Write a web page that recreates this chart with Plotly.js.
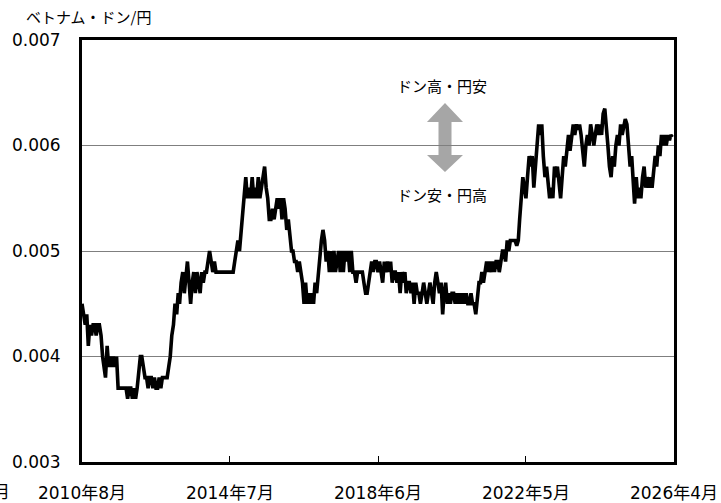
<!DOCTYPE html>
<html><head><meta charset="utf-8">
<script src="https://cdn.plot.ly/plotly-3.0.1.min.js"></script>
<style>html,body{margin:0;padding:0;background:#fff}</style>
</head><body>
<div id="chart" style="width:721px;height:503px"></div>
<script>
// Semi-monthly observations (1st and 16th of each month) starting August 2010
const startYear = 2010, startMonth = 8;
const rates = [
0.0045,0.0044,0.0043,0.0044,0.0041,0.0043,0.0042,0.0043,0.0043,0.0042,
0.0043,0.0043,0.0042,0.0040,0.0039,0.0038,0.0041,0.0039,0.0040,0.0039,
0.0040,0.0039,0.0040,0.0037,0.0037,0.0037,0.0037,0.0037,0.0037,0.0036,
0.0037,0.0037,0.0036,0.0037,0.0036,0.0037,0.0039,0.0040,0.0040,0.0039,
0.0038,0.0038,0.0037,0.0038,0.0038,0.0037,0.0038,0.0037,0.0037,0.0038,
0.0037,0.0038,0.0038,0.0038,0.0038,0.0039,0.0040,0.0042,0.0043,0.0045,
0.0044,0.0046,0.0045,0.0047,0.0048,0.0046,0.0048,0.0049,0.0047,0.0045,
0.0047,0.0048,0.0046,0.0048,0.0047,0.0046,0.0048,0.0047,0.0048,0.0048,
0.0049,0.0050,0.0049,0.0048,0.0049,0.0048,0.0048,0.0048,0.0048,0.0048,
0.0048,0.0048,0.0048,0.0048,0.0048,0.0048,0.0048,0.0049,0.0050,0.0051,
0.0050,0.0052,0.0053,0.0055,0.0057,0.0055,0.0056,0.0055,0.0057,0.0055,
0.0056,0.0055,0.0057,0.0055,0.0056,0.0057,0.0058,0.0056,0.0055,0.0053,
0.0053,0.0054,0.0053,0.0054,0.0055,0.0054,0.0055,0.0053,0.0055,0.0054,
0.0052,0.0053,0.0051,0.0050,0.0050,0.0049,0.0049,0.0048,0.0049,0.0048,
0.0047,0.0045,0.0047,0.0045,0.0046,0.0045,0.0046,0.0045,0.0047,0.0046,
0.0048,0.0050,0.0051,0.0052,0.0051,0.0049,0.0050,0.0048,0.0050,0.0048,
0.0050,0.0048,0.0049,0.0050,0.0048,0.0050,0.0048,0.0050,0.0049,0.0050,
0.0048,0.0050,0.0048,0.0048,0.0047,0.0048,0.0048,0.0048,0.0048,0.0047,
0.0046,0.0046,0.0047,0.0048,0.0049,0.0048,0.0049,0.0049,0.0048,0.0049,
0.0048,0.0047,0.0049,0.0048,0.0049,0.0048,0.0049,0.0047,0.0048,0.0048,
0.0047,0.0048,0.0046,0.0048,0.0047,0.0048,0.0046,0.0047,0.0047,0.0046,
0.0047,0.0045,0.0047,0.0046,0.0046,0.0045,0.0046,0.0047,0.0046,0.0045,
0.0046,0.0047,0.0046,0.0045,0.0047,0.0048,0.0047,0.0046,0.0047,0.0044,
0.0046,0.0047,0.0045,0.0046,0.0045,0.0046,0.0046,0.0045,0.0046,0.0045,
0.0046,0.0045,0.0046,0.0045,0.0046,0.0045,0.0045,0.0046,0.0045,0.0045,
0.0044,0.0046,0.0047,0.0047,0.0048,0.0047,0.0048,0.0049,0.0048,0.0049,
0.0048,0.0049,0.0048,0.0049,0.0049,0.0048,0.0049,0.0050,0.0050,0.0049,
0.0051,0.0050,0.0051,0.0051,0.0051,0.0051,0.00505,0.0051,0.0053,0.0055,
0.0057,0.0056,0.0055,0.0057,0.0059,0.0058,0.0059,0.0056,0.0058,0.0060,
0.0062,0.0061,0.0062,0.0059,0.0057,0.0058,0.0056,0.0055,0.0056,0.0055,
0.0058,0.0057,0.0058,0.0056,0.0055,0.0057,0.0059,0.0058,0.0060,0.0061,
0.00595,0.0061,0.0062,0.0061,0.0062,0.00615,0.0062,0.0061,0.0059,0.0058,
0.0060,0.0061,0.0060,0.0062,0.0061,0.0060,0.0061,0.0062,0.0061,0.0062,
0.0061,0.0063,0.00635,0.0062,0.0060,0.0058,0.0057,0.0059,0.0058,0.0060,
0.0061,0.0060,0.0062,0.0061,0.0062,0.00625,0.0062,0.0060,0.0058,0.0059,
0.0056,0.00545,0.0057,0.0055,0.0056,0.0055,0.0057,0.0058,0.0056,0.0057,
0.0056,0.0057,0.0056,0.0058,0.0059,0.0058,0.0060,0.0059,0.0061,0.0060,
0.0061,0.0060,0.0061,0.00605,0.0061,0.00608
];
const tickDates = ['2010-08-01','2014-07-01','2018-06-01','2022-05-01','2026-04-01'];
const tickLabels = ['2010年8月','2014年7月','2018年6月','2022年5月','2026年4月'];
const yTicks = [0.003,0.004,0.005,0.006,0.007];
const yLabels = ['0.003','0.004','0.005','0.006','0.007'];
const yTitle = 'ベトナム・ドン/円';
const upLabel = 'ドン高・円安';
const downLabel = 'ドン安・円高';
const prevTickLabel = '2006年9月';

function pad(n){return n<10?'0'+n:''+n;}
const dates = rates.map((v,i)=>{
  const m = (startMonth-1) + Math.floor(i/2);
  const y = startYear + Math.floor(m/12);
  return y+'-'+pad(m%12+1)+'-'+(i%2?'16':'01');
});

// plot-area pixel frame -> paper fractions (for decorations only)
const PL=82, PR=674, PT=40, PB=462;
const px = x => (x-PL)/(PR-PL);
const py = y => (PB-y)/(PB-PT);

const FONT = 'DejaVu Sans, Noto Sans CJK JP, sans-serif';
const JFONT = 'Noto Sans CJK JP, sans-serif';

const arrowPts = [[445,103],[463,122],[451.5,122],[451.5,155],[463,155],[445,172],[427,155],[438.5,155],[438.5,122],[427,122]];
const arrowPath = 'M ' + arrowPts.map(p=>px(p[0]).toFixed(5)+','+py(p[1]).toFixed(5)).join(' L ') + ' Z';

const trace = {
  x: dates, y: rates, type:'scatter', mode:'lines',
  line:{color:'#000', width:3.6}, hoverinfo:'skip'
};

const layout = {
  width:721, height:503,
  margin:{l:PL, r:721-PR, t:PT, b:503-PB, pad:0},
  paper_bgcolor:'#fff', plot_bgcolor:'#fff',
  showlegend:false,
  font:{family:FONT, size:17, color:'#000'},
  xaxis:{
    type:'date', range:['2010-08-01','2026-04-01'],
    tickmode:'array', tickvals:tickDates, ticktext:tickLabels,
    ticks:'inside', ticklen:6, tickwidth:1, tickcolor:'#000',
    showgrid:false, zeroline:false,
    showline:true, linecolor:'#000', linewidth:3, mirror:true,
    ticklabelstandoff:14,
    tickfont:{family:FONT, size:17, color:'#000'}
  },
  yaxis:{
    range:[0.003,0.007],
    tickmode:'array', tickvals:yTicks, ticktext:yLabels,
    ticks:'', showgrid:true, gridcolor:'#7f7f7f', gridwidth:1,
    zeroline:false, showline:true, linecolor:'#000', linewidth:3, mirror:true,
    ticklabelstandoff:15,
    tickfont:{family:FONT, size:17, color:'#000'}
  },
  shapes:[{
    type:'path', xref:'paper', yref:'paper', path:arrowPath,
    fillcolor:'#a6a6a6', line:{width:0}, layer:'below'
  }],
  annotations:[
    {xref:'paper', yref:'paper', x:px(24), y:py(17), xanchor:'left', yanchor:'middle',
     text:yTitle, showarrow:false, font:{family:JFONT, size:15, color:'#000'}},
    {xref:'paper', yref:'paper', x:px(442), y:py(85), xanchor:'center', yanchor:'middle',
     text:upLabel, showarrow:false, font:{family:JFONT, size:15, color:'#000'}},
    {xref:'paper', yref:'paper', x:px(442), y:py(194), xanchor:'center', yanchor:'middle',
     text:downLabel, showarrow:false, font:{family:JFONT, size:15, color:'#000'}},
    {xref:'paper', yref:'paper', x:px(12), y:py(492), xanchor:'right', yanchor:'middle',
     text:prevTickLabel, showarrow:false, font:{family:FONT, size:17, color:'#000'}}
  ]
};

Plotly.newPlot('chart', [trace], layout, {displayModeBar:false, staticPlot:true});
</script>
</body></html>
